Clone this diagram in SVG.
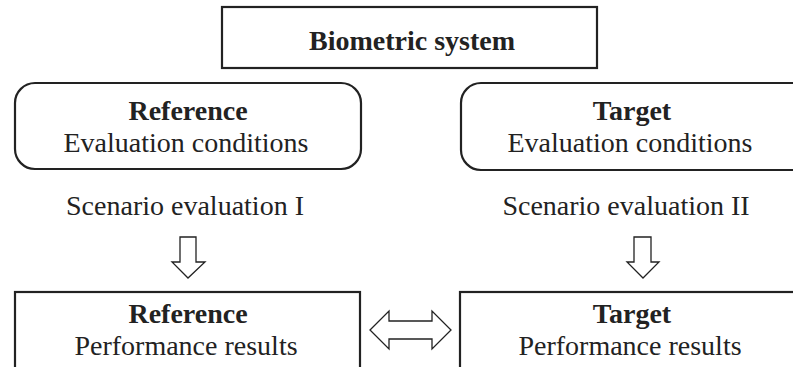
<svg xmlns="http://www.w3.org/2000/svg" width="793" height="367" viewBox="0 0 793 367">
<style>
.box{fill:#fff;stroke:#222;stroke-width:2.2}
.arr{fill:#fff;stroke:#222;stroke-width:1.3;stroke-linejoin:miter}
text{font-family:"Liberation Serif","Times New Roman",serif;fill:#222;text-anchor:middle;font-size:28px}
.b{font-weight:bold}
</style>
<rect width="793" height="367" fill="#fff"/>
<g id="biometric-system">
<rect class="box" x="222" y="7" width="375" height="61"/>
<text class="b" x="412" y="50">Biometric system</text>
</g>
<g id="reference-conditions">
<rect class="box" x="15" y="83" width="346" height="86" rx="20"/>
<text class="b" x="188" y="120">Reference</text>
<text x="186" y="152">Evaluation conditions</text>
</g>
<g id="target-conditions">
<rect class="box" x="461" y="83" width="360" height="87" rx="20"/>
<text class="b" x="632" y="120">Target</text>
<text x="630" y="152">Evaluation conditions</text>
</g>
<g id="scenario-1">
<text x="185" y="215">Scenario evaluation I</text>
</g>
<g id="scenario-2">
<text x="626" y="215">Scenario evaluation II</text>
</g>
<g id="reference-results">
<rect class="box" x="15" y="292" width="345" height="90"/>
<text class="b" x="188" y="323">Reference</text>
<text x="186" y="355">Performance results</text>
</g>
<g id="target-results">
<rect class="box" x="460" y="292" width="360" height="90"/>
<text class="b" x="632" y="323">Target</text>
<text x="630" y="355">Performance results</text>
</g>
<g id="connectors">
<path class="arr" d="M180,237 H196 V262 H205 L188,278 L172,262 H180 Z"/>
<path class="arr" d="M634,237 H651 V262 H659 L643,278 L627,262 H634 Z"/>
<path class="arr" d="M370,330 L389,311 V321 H432 V311 L451,330 L432,349 V339 H389 V349 Z"/>
</g>
</svg>
